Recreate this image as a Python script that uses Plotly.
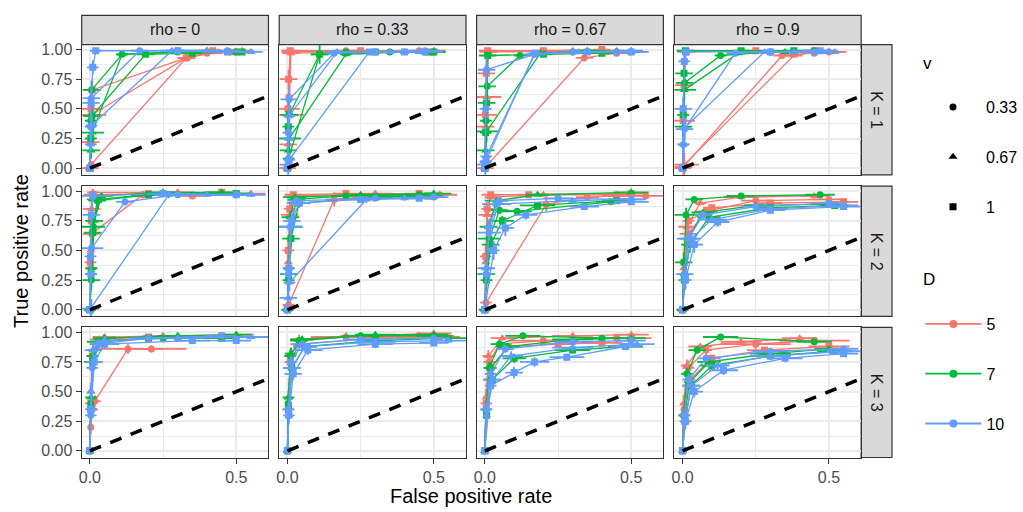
import plotly.graph_objects as go

# ---------------- labels / levels ----------------
RHO_LABELS = ["rho = 0", "rho = 0.33", "rho = 0.67", "rho = 0.9"]
K_LABELS = ["K = 1", "K = 2", "K = 3"]
D_LEVELS = ["5", "7", "10"]
V_LEVELS = ["0.33", "0.67", "1"]
D_COLORS = ["#F8766D", "#00BA38", "#619CFF"]
V_SYMBOLS = ["circle", "triangle-up", "square"]
X_TICKS = [0.0, 0.5]
X_TICKTEXT = ["0.0", "0.5"]
Y_TICKS = [0.0, 0.25, 0.5, 0.75, 1.0]
Y_TICKTEXT = ["0.00", "0.25", "0.50", "0.75", "1.00"]
DIAG = [0.0, 1.0]

# curve order in every panel: (D5,v.33) (D5,v.67) (D5,v1) (D7,...) (D10,...)
# ---------------- K = 1 ----------------
FPR_K1_RHO0 = [
    [0, 0.002, 0.004, 0.33, 0.40, 0.48],
    [0, 0.003, 0.006, 0.33, 0.44, 0.52],
    [0, 0.004, 0.008, 0.33, 0.42, 0.50],
    [0, 0.003, 0.006, 0.11, 0.30, 0.50],
    [0, 0.004, 0.008, 0.11, 0.40, 0.50],
    [0, 0.003, 0.007, 0.19, 0.35, 0.52],
    [0, 0.002, 0.005, 0.17, 0.30, 0.47],
    [0, 0.003, 0.006, 0.28, 0.40, 0.55],
    [0, 0.004, 0.010, 0.02, 0.30, 0.47],
]
TPR_K1_RHO0 = [
    [0, 0.01, 0.03, 0.93, 0.97, 0.98],
    [0, 0.22, 0.45, 0.93, 0.98, 0.99],
    [0, 0.50, 0.66, 0.93, 0.99, 0.98],
    [0, 0.40, 0.66, 0.96, 0.98, 0.98],
    [0, 0.15, 0.30, 0.96, 0.99, 0.98],
    [0, 0.25, 0.44, 0.96, 0.97, 0.98],
    [0, 0.35, 0.59, 0.99, 0.99, 0.99],
    [0, 0.20, 0.36, 0.99, 0.99, 0.98],
    [0, 0.55, 0.85, 0.99, 0.99, 0.98],
]
FPR_K1_RHO033 = [
    [0, 0.002, 0.005, 0.010, 0.20, 0.45],
    [0, 0.003, 0.006, 0.012, 0.30, 0.50],
    [0, 0.002, 0.004, 0.010, 0.25, 0.48],
    [0, 0.004, 0.11, 0.20, 0.35, 0.50],
    [0, 0.003, 0.006, 0.20, 0.40, 0.48],
    [0, 0.003, 0.006, 0.11, 0.30, 0.50],
    [0, 0.003, 0.006, 0.16, 0.30, 0.47],
    [0, 0.003, 0.006, 0.17, 0.35, 0.45],
    [0, 0.003, 0.006, 0.28, 0.40, 0.47],
]
TPR_K1_RHO033 = [
    [0, 0.30, 0.60, 0.98, 0.99, 0.99],
    [0, 0.20, 0.45, 0.97, 0.98, 0.99],
    [0, 0.50, 0.75, 0.99, 0.99, 0.98],
    [0, 0.08, 0.96, 0.98, 0.98, 0.98],
    [0, 0.15, 0.25, 0.96, 0.98, 0.97],
    [0, 0.35, 0.45, 0.96, 0.98, 0.98],
    [0, 0.30, 0.58, 0.97, 0.98, 0.99],
    [0, 0.25, 0.44, 0.98, 0.98, 0.98],
    [0, 0.03, 0.07, 0.98, 0.98, 0.98],
]
FPR_K1_RHO067 = [
    [0, 0.003, 0.006, 0.34, 0.45, 0.50],
    [0, 0.003, 0.006, 0.012, 0.30, 0.45],
    [0, 0.002, 0.005, 0.010, 0.20, 0.40],
    [0, 0.004, 0.008, 0.12, 0.30, 0.45],
    [0, 0.003, 0.006, 0.19, 0.35, 0.50],
    [0, 0.003, 0.006, 0.010, 0.20, 0.40],
    [0, 0.003, 0.006, 0.17, 0.30, 0.45],
    [0, 0.002, 0.005, 0.17, 0.32, 0.50],
    [0, 0.002, 0.004, 0.17, 0.35, 0.50],
]
TPR_K1_RHO067 = [
    [0, 0.01, 0.02, 0.93, 0.97, 0.98],
    [0, 0.35, 0.60, 0.98, 0.99, 0.99],
    [0, 0.45, 0.80, 0.99, 0.99, 1.00],
    [0, 0.40, 0.69, 0.95, 0.98, 0.98],
    [0, 0.15, 0.31, 0.97, 0.99, 0.98],
    [0, 0.30, 0.55, 0.95, 0.96, 0.97],
    [0, 0.50, 0.83, 0.96, 0.98, 0.98],
    [0, 0.05, 0.10, 0.96, 0.98, 0.99],
    [0, 0.03, 0.06, 0.97, 0.98, 0.98],
]
FPR_K1_RHO09 = [
    [0, 0.003, 0.006, 0.34, 0.45, 0.50],
    [0, 0.003, 0.006, 0.38, 0.45, 0.52],
    [0, 0.002, 0.005, 0.012, 0.25, 0.45],
    [0, 0.003, 0.007, 0.13, 0.30, 0.45],
    [0, 0.003, 0.006, 0.19, 0.35, 0.50],
    [0, 0.002, 0.005, 0.010, 0.20, 0.38],
    [0, 0.003, 0.007, 0.18, 0.30, 0.45],
    [0, 0.003, 0.007, 0.28, 0.38, 0.50],
    [0, 0.002, 0.006, 0.012, 0.30, 0.47],
]
TPR_K1_RHO09 = [
    [0, 0.01, 0.02, 0.95, 0.97, 0.98],
    [0, 0.01, 0.03, 0.95, 0.98, 0.98],
    [0, 0.40, 0.70, 0.98, 0.99, 0.99],
    [0, 0.45, 0.72, 0.95, 0.98, 0.99],
    [0, 0.35, 0.66, 0.97, 0.98, 0.98],
    [0, 0.45, 0.80, 0.99, 0.99, 0.99],
    [0, 0.20, 0.33, 0.97, 0.98, 0.98],
    [0, 0.20, 0.34, 0.98, 0.98, 0.98],
    [0, 0.50, 0.90, 0.98, 0.98, 0.99],
]
FPR_SD_K1 = [
    [0.03, 0.01, 0.01, 0.03, 0.04, 0.05],
    [0.02, 0.03, 0.05, 0.03, 0.03, 0.04],
    [0.02, 0.04, 0.03, 0.03, 0.04, 0.03],
    [0.01, 0.02, 0.03, 0.02, 0.03, 0.04],
    [0.01, 0.03, 0.04, 0.02, 0.04, 0.03],
    [0.01, 0.02, 0.03, 0.03, 0.03, 0.04],
    [0.01, 0.02, 0.03, 0.03, 0.04, 0.05],
    [0.01, 0.02, 0.02, 0.04, 0.03, 0.04],
    [0.01, 0.03, 0.02, 0.02, 0.04, 0.06],
]
TPR_SD_K1 = [
    [0.01, 0.02, 0.03, 0.03, 0.01, 0.01],
    [0.01, 0.08, 0.10, 0.02, 0.01, 0.01],
    [0.01, 0.10, 0.08, 0.02, 0.01, 0.01],
    [0.01, 0.09, 0.08, 0.02, 0.01, 0.01],
    [0.01, 0.07, 0.09, 0.02, 0.01, 0.01],
    [0.01, 0.08, 0.10, 0.02, 0.01, 0.01],
    [0.01, 0.09, 0.10, 0.01, 0.01, 0.01],
    [0.01, 0.08, 0.09, 0.01, 0.01, 0.01],
    [0.01, 0.10, 0.06, 0.01, 0.01, 0.01],
]

# ---------------- K = 2 ----------------
FPR_K2_RHO0 = [
    [0, 0.003, 0.006, 0.18, 0.35, 0.50],
    [0, 0.003, 0.006, 0.010, 0.30, 0.55],
    [0, 0.002, 0.005, 0.010, 0.20, 0.45],
    [0, 0.005, 0.012, 0.025, 0.20, 0.50],
    [0, 0.006, 0.015, 0.040, 0.25, 0.45],
    [0, 0.004, 0.010, 0.030, 0.20, 0.50],
    [0, 0.003, 0.006, 0.12, 0.30, 0.50],
    [0, 0.003, 0.005, 0.27, 0.40, 0.55],
    [0, 0.002, 0.005, 0.010, 0.25, 0.50],
]
TPR_K2_RHO0 = [
    [0, 0.35, 0.64, 0.97, 0.96, 0.97],
    [0, 0.50, 0.85, 0.99, 0.99, 0.98],
    [0, 0.40, 0.75, 0.97, 0.98, 0.99],
    [0, 0.25, 0.70, 0.92, 0.97, 0.98],
    [0, 0.35, 0.75, 0.96, 0.99, 0.99],
    [0, 0.30, 0.65, 0.93, 0.97, 0.98],
    [0, 0.30, 0.52, 0.91, 0.97, 0.97],
    [0, 0.01, 0.02, 0.97, 0.97, 0.97],
    [0, 0.45, 0.80, 0.96, 0.98, 0.97],
]
FPR_K2_RHO033 = [
    [0, 0.004, 0.16, 0.30, 0.45, 0.52],
    [0, 0.003, 0.008, 0.020, 0.30, 0.50],
    [0, 0.003, 0.008, 0.020, 0.20, 0.45],
    [0, 0.005, 0.012, 0.030, 0.20, 0.45],
    [0, 0.004, 0.010, 0.025, 0.25, 0.50],
    [0, 0.004, 0.012, 0.040, 0.30, 0.48],
    [0, 0.004, 0.010, 0.030, 0.30, 0.50],
    [0, 0.003, 0.007, 0.27, 0.40, 0.50],
    [0, 0.005, 0.015, 0.040, 0.25, 0.45],
]
TPR_K2_RHO033 = [
    [0, 0.04, 0.93, 0.96, 0.97, 0.97],
    [0, 0.40, 0.80, 0.96, 0.98, 0.97],
    [0, 0.50, 0.85, 0.97, 0.98, 0.98],
    [0, 0.30, 0.70, 0.93, 0.96, 0.97],
    [0, 0.35, 0.78, 0.95, 0.97, 0.98],
    [0, 0.25, 0.60, 0.90, 0.95, 0.96],
    [0, 0.30, 0.70, 0.92, 0.94, 0.95],
    [0, 0.10, 0.23, 0.93, 0.94, 0.95],
    [0, 0.35, 0.75, 0.90, 0.93, 0.94],
]
FPR_K2_RHO067 = [
    [0, 0.004, 0.21, 0.35, 0.45, 0.55],
    [0, 0.003, 0.008, 0.020, 0.20, 0.45],
    [0, 0.003, 0.008, 0.020, 0.15, 0.50],
    [0, 0.005, 0.015, 0.050, 0.11, 0.43],
    [0, 0.004, 0.012, 0.040, 0.18, 0.50],
    [0, 0.006, 0.020, 0.060, 0.18, 0.45],
    [0, 0.005, 0.015, 0.050, 0.25, 0.50],
    [0, 0.005, 0.015, 0.040, 0.30, 0.50],
    [0, 0.030, 0.070, 0.14, 0.34, 0.50],
]
TPR_K2_RHO067 = [
    [0, 0.06, 0.89, 0.95, 0.96, 0.96],
    [0, 0.40, 0.80, 0.95, 0.97, 0.97],
    [0, 0.45, 0.85, 0.97, 0.97, 0.98],
    [0, 0.30, 0.60, 0.84, 0.83, 0.91],
    [0, 0.35, 0.70, 0.92, 0.97, 0.99],
    [0, 0.25, 0.55, 0.75, 0.88, 0.92],
    [0, 0.30, 0.65, 0.92, 0.94, 0.93],
    [0, 0.35, 0.70, 0.89, 0.92, 0.93],
    [0, 0.50, 0.69, 0.80, 0.87, 0.91],
]
FPR_K2_RHO09 = [
    [0, 0.005, 0.020, 0.08, 0.25, 0.50],
    [0, 0.004, 0.015, 0.06, 0.20, 0.45],
    [0, 0.005, 0.020, 0.10, 0.30, 0.55],
    [0, 0.004, 0.012, 0.04, 0.20, 0.47],
    [0, 0.006, 0.020, 0.07, 0.25, 0.50],
    [0, 0.006, 0.025, 0.09, 0.30, 0.52],
    [0, 0.006, 0.020, 0.07, 0.25, 0.50],
    [0, 0.008, 0.030, 0.10, 0.30, 0.55],
    [0, 0.010, 0.040, 0.12, 0.30, 0.55],
]
TPR_K2_RHO09 = [
    [0, 0.30, 0.64, 0.83, 0.92, 0.93],
    [0, 0.35, 0.70, 0.90, 0.95, 0.96],
    [0, 0.40, 0.75, 0.86, 0.90, 0.91],
    [0, 0.40, 0.80, 0.93, 0.96, 0.97],
    [0, 0.30, 0.60, 0.82, 0.88, 0.89],
    [0, 0.25, 0.55, 0.78, 0.86, 0.88],
    [0, 0.30, 0.60, 0.80, 0.87, 0.90],
    [0, 0.30, 0.60, 0.76, 0.85, 0.88],
    [0, 0.25, 0.55, 0.74, 0.84, 0.87],
]
FPR_SD_K2 = [
    [0.01, 0.02, 0.03, 0.04, 0.05, 0.06],
    [0.02, 0.01, 0.03, 0.02, 0.06, 0.05],
    [0.01, 0.02, 0.02, 0.03, 0.04, 0.05],
    [0.01, 0.03, 0.04, 0.03, 0.05, 0.05],
    [0.01, 0.02, 0.03, 0.04, 0.04, 0.06],
    [0.02, 0.02, 0.03, 0.04, 0.06, 0.05],
    [0.01, 0.02, 0.04, 0.03, 0.05, 0.04],
    [0.01, 0.03, 0.02, 0.05, 0.04, 0.05],
    [0.01, 0.02, 0.03, 0.04, 0.05, 0.06],
]
TPR_SD_K2 = [
    [0.01, 0.07, 0.06, 0.03, 0.02, 0.02],
    [0.01, 0.08, 0.05, 0.02, 0.01, 0.01],
    [0.01, 0.09, 0.06, 0.02, 0.01, 0.01],
    [0.01, 0.08, 0.06, 0.03, 0.02, 0.01],
    [0.01, 0.07, 0.05, 0.02, 0.01, 0.01],
    [0.01, 0.09, 0.07, 0.04, 0.02, 0.02],
    [0.01, 0.08, 0.06, 0.03, 0.02, 0.02],
    [0.01, 0.06, 0.07, 0.03, 0.02, 0.02],
    [0.01, 0.08, 0.07, 0.04, 0.03, 0.02],
]

# ---------------- K = 3 ----------------
FPR_K3_RHO0 = [
    [0, 0.003, 0.008, 0.017, 0.13, 0.21],
    [0, 0.003, 0.010, 0.050, 0.25, 0.50],
    [0, 0.003, 0.008, 0.030, 0.20, 0.45],
    [0, 0.003, 0.010, 0.040, 0.25, 0.50],
    [0, 0.004, 0.012, 0.050, 0.30, 0.50],
    [0, 0.003, 0.010, 0.030, 0.20, 0.45],
    [0, 0.003, 0.008, 0.030, 0.20, 0.45],
    [0, 0.004, 0.012, 0.050, 0.30, 0.55],
    [0, 0.004, 0.015, 0.050, 0.35, 0.50],
]
TPR_K3_RHO0 = [
    [0, 0.20, 0.35, 0.42, 0.86, 0.86],
    [0, 0.50, 0.85, 0.96, 0.97, 0.98],
    [0, 0.40, 0.80, 0.94, 0.96, 0.97],
    [0, 0.40, 0.80, 0.93, 0.95, 0.96],
    [0, 0.45, 0.85, 0.95, 0.97, 0.98],
    [0, 0.35, 0.75, 0.92, 0.95, 0.95],
    [0, 0.30, 0.70, 0.90, 0.95, 0.97],
    [0, 0.50, 0.85, 0.93, 0.95, 0.96],
    [0, 0.35, 0.75, 0.90, 0.93, 0.93],
]
FPR_K3_RHO033 = [
    [0, 0.003, 0.010, 0.040, 0.20, 0.45],
    [0, 0.004, 0.012, 0.050, 0.25, 0.50],
    [0, 0.003, 0.010, 0.040, 0.30, 0.52],
    [0, 0.003, 0.010, 0.040, 0.25, 0.50],
    [0, 0.004, 0.012, 0.050, 0.30, 0.50],
    [0, 0.004, 0.015, 0.060, 0.30, 0.55],
    [0, 0.004, 0.012, 0.050, 0.25, 0.50],
    [0, 0.005, 0.015, 0.060, 0.30, 0.55],
    [0, 0.005, 0.020, 0.070, 0.30, 0.50],
]
TPR_K3_RHO033 = [
    [0, 0.40, 0.80, 0.93, 0.96, 0.97],
    [0, 0.45, 0.82, 0.94, 0.97, 0.99],
    [0, 0.35, 0.75, 0.90, 0.95, 0.96],
    [0, 0.40, 0.80, 0.93, 0.97, 0.97],
    [0, 0.45, 0.82, 0.94, 0.98, 0.98],
    [0, 0.35, 0.70, 0.88, 0.93, 0.95],
    [0, 0.35, 0.75, 0.90, 0.94, 0.95],
    [0, 0.30, 0.70, 0.88, 0.92, 0.93],
    [0, 0.30, 0.65, 0.85, 0.90, 0.91],
]
FPR_K3_RHO067 = [
    [0, 0.004, 0.015, 0.05, 0.20, 0.45],
    [0, 0.004, 0.012, 0.06, 0.30, 0.50],
    [0, 0.005, 0.020, 0.08, 0.25, 0.40],
    [0, 0.004, 0.015, 0.05, 0.13, 0.40],
    [0, 0.005, 0.020, 0.08, 0.30, 0.50],
    [0, 0.006, 0.025, 0.10, 0.30, 0.48],
    [0, 0.005, 0.020, 0.07, 0.30, 0.50],
    [0, 0.006, 0.025, 0.09, 0.30, 0.52],
    [0, 0.020, 0.100, 0.17, 0.28, 0.48],
]
TPR_K3_RHO067 = [
    [0, 0.40, 0.75, 0.90, 0.93, 0.95],
    [0, 0.45, 0.80, 0.95, 0.97, 0.98],
    [0, 0.40, 0.70, 0.88, 0.90, 0.91],
    [0, 0.35, 0.70, 0.90, 0.97, 0.95],
    [0, 0.35, 0.70, 0.88, 0.94, 0.95],
    [0, 0.30, 0.60, 0.78, 0.85, 0.88],
    [0, 0.35, 0.65, 0.86, 0.92, 0.93],
    [0, 0.30, 0.60, 0.80, 0.87, 0.90],
    [0, 0.55, 0.66, 0.75, 0.79, 0.88],
]
FPR_K3_RHO09 = [
    [0, 0.005, 0.020, 0.08, 0.25, 0.45],
    [0, 0.004, 0.015, 0.06, 0.20, 0.40],
    [0, 0.006, 0.025, 0.10, 0.28, 0.50],
    [0, 0.004, 0.015, 0.05, 0.13, 0.45],
    [0, 0.006, 0.025, 0.09, 0.30, 0.50],
    [0, 0.008, 0.030, 0.10, 0.30, 0.52],
    [0, 0.006, 0.020, 0.08, 0.30, 0.55],
    [0, 0.008, 0.030, 0.12, 0.30, 0.55],
    [0, 0.010, 0.040, 0.14, 0.35, 0.55],
]
TPR_K3_RHO09 = [
    [0, 0.35, 0.70, 0.85, 0.90, 0.93],
    [0, 0.40, 0.72, 0.88, 0.92, 0.95],
    [0, 0.30, 0.60, 0.78, 0.85, 0.88],
    [0, 0.30, 0.65, 0.85, 0.96, 0.92],
    [0, 0.30, 0.58, 0.75, 0.82, 0.86],
    [0, 0.25, 0.55, 0.72, 0.80, 0.84],
    [0, 0.30, 0.60, 0.78, 0.84, 0.86],
    [0, 0.25, 0.55, 0.72, 0.80, 0.84],
    [0, 0.25, 0.50, 0.68, 0.78, 0.82],
]
FPR_SD_K3 = [
    [0.01, 0.01, 0.02, 0.02, 0.12, 0.12],
    [0.01, 0.01, 0.02, 0.04, 0.07, 0.06],
    [0.01, 0.02, 0.02, 0.03, 0.06, 0.07],
    [0.01, 0.01, 0.02, 0.03, 0.06, 0.06],
    [0.01, 0.02, 0.02, 0.04, 0.07, 0.05],
    [0.01, 0.01, 0.03, 0.04, 0.06, 0.06],
    [0.01, 0.02, 0.02, 0.03, 0.06, 0.05],
    [0.01, 0.01, 0.03, 0.04, 0.07, 0.06],
    [0.01, 0.02, 0.03, 0.05, 0.06, 0.05],
]
TPR_SD_K3 = [
    [0.01, 0.06, 0.06, 0.05, 0.04, 0.03],
    [0.01, 0.07, 0.05, 0.02, 0.02, 0.01],
    [0.01, 0.06, 0.06, 0.03, 0.02, 0.02],
    [0.01, 0.07, 0.05, 0.03, 0.02, 0.02],
    [0.01, 0.06, 0.05, 0.03, 0.02, 0.01],
    [0.01, 0.07, 0.06, 0.04, 0.03, 0.02],
    [0.01, 0.06, 0.05, 0.03, 0.02, 0.02],
    [0.01, 0.07, 0.06, 0.04, 0.03, 0.02],
    [0.01, 0.06, 0.05, 0.04, 0.03, 0.02],
]

PANEL_FPR = [
    [FPR_K1_RHO0, FPR_K1_RHO033, FPR_K1_RHO067, FPR_K1_RHO09],
    [FPR_K2_RHO0, FPR_K2_RHO033, FPR_K2_RHO067, FPR_K2_RHO09],
    [FPR_K3_RHO0, FPR_K3_RHO033, FPR_K3_RHO067, FPR_K3_RHO09],
]
PANEL_TPR = [
    [TPR_K1_RHO0, TPR_K1_RHO033, TPR_K1_RHO067, TPR_K1_RHO09],
    [TPR_K2_RHO0, TPR_K2_RHO033, TPR_K2_RHO067, TPR_K2_RHO09],
    [TPR_K3_RHO0, TPR_K3_RHO033, TPR_K3_RHO067, TPR_K3_RHO09],
]
ROW_FPR_SD = [FPR_SD_K1, FPR_SD_K2, FPR_SD_K3]
ROW_TPR_SD = [TPR_SD_K1, TPR_SD_K2, TPR_SD_K3]

# ---------------- layout geometry (pixels) ----------------
W, H = 1023, 512
COL_LEFT = [79.0, 277.3, 475.5, 674.0]
PANEL_W = 187.5
ROW_TOP = [42.0, 185.0, 327.5]
PANEL_H = 131.5
STRIP_TOP = 12.5
STRIP_R_W = 31.0
FONT = "Liberation Sans, Arial, Helvetica, sans-serif"

fig = go.Figure()

def px_x(v):
    return v / W

def px_y(v):
    return 1 - v / H

for r in range(3):
    for c in range(4):
        idx = r * 4 + c + 1
        xa = "x" if idx == 1 else f"x{idx}"
        ya = "y" if idx == 1 else f"y{idx}"
        fpr = PANEL_FPR[r][c]
        tpr = PANEL_TPR[r][c]
        fsd = ROW_FPR_SD[r]
        tsd = ROW_TPR_SD[r]
        for di in range(3):
            for vi in range(3):
                k = di * 3 + vi
                col = D_COLORS[di]
                fig.add_trace(go.Scatter(
                    x=fpr[k], y=tpr[k], xaxis=xa, yaxis=ya,
                    mode="lines+markers",
                    line=dict(color=col, width=1.3),
                    marker=dict(symbol=V_SYMBOLS[vi], color=col,
                                size=8 if vi == 1 else 7),
                    error_x=dict(type="data", array=fsd[k], color=col,
                                 thickness=1.8, width=0),
                    error_y=dict(type="data", array=tsd[k], color=col,
                                 thickness=1.8, width=0),
                    showlegend=False, hoverinfo="skip"))
        fig.add_trace(go.Scatter(
            x=DIAG, y=DIAG, xaxis=xa, yaxis=ya, mode="lines",
            line=dict(color="black", width=3.5, dash="12px,10px"),
            showlegend=False, hoverinfo="skip"))

        x0, x1 = COL_LEFT[c], COL_LEFT[c] + PANEL_W
        y0, y1 = ROW_TOP[r], ROW_TOP[r] + PANEL_H
        bottom = r == 2
        left = c == 0
        axkey_x = "xaxis" if idx == 1 else f"xaxis{idx}"
        axkey_y = "yaxis" if idx == 1 else f"yaxis{idx}"
        fig.layout[axkey_x] = dict(
            domain=[px_x(x0), px_x(x1)], anchor=ya,
            range=[-0.028, 0.61], tickvals=X_TICKS, ticktext=X_TICKTEXT,
            showticklabels=bottom, ticks="outside" if bottom else "",
            ticklen=5, tickwidth=1.2, tickcolor="#333333",
            tickfont=dict(family=FONT, size=16, color="#4D4D4D"),
            showline=True, mirror=True, linecolor="#333333", linewidth=1.2,
            showgrid=True, gridcolor="#EBEBEB", gridwidth=1.6, zeroline=False,
            minor=dict(tickvals=[0.25], showgrid=True, gridcolor="#EBEBEB",
                       gridwidth=0.8, ticks=""),
        )
        fig.layout[axkey_y] = dict(
            domain=[px_y(y1), px_y(y0)], anchor=xa,
            range=[-0.056, 1.042], tickvals=Y_TICKS, ticktext=Y_TICKTEXT,
            showticklabels=left, ticks="outside" if left else "",
            ticklen=5, tickwidth=1.2, tickcolor="#333333",
            tickfont=dict(family=FONT, size=16, color="#4D4D4D"),
            showline=True, mirror=True, linecolor="#333333", linewidth=1.2,
            showgrid=True, gridcolor="#EBEBEB", gridwidth=1.6, zeroline=False,
            minor=dict(tickvals=[0.125, 0.375, 0.625, 0.875], showgrid=True,
                       gridcolor="#EBEBEB", gridwidth=0.8, ticks=""),
        )

shapes = []
annotations = []
# top strips
for c in range(4):
    x0, x1 = COL_LEFT[c], COL_LEFT[c] + PANEL_W
    shapes.append(dict(type="rect", xref="paper", yref="paper",
                       x0=px_x(x0), x1=px_x(x1), y0=px_y(ROW_TOP[0]), y1=px_y(STRIP_TOP),
                       fillcolor="#D9D9D9", line=dict(color="#333333", width=1.2),
                       layer="below"))
    annotations.append(dict(xref="paper", yref="paper", x=px_x((x0 + x1) / 2),
                            y=px_y((ROW_TOP[0] + STRIP_TOP) / 2), text=RHO_LABELS[c],
                            showarrow=False, font=dict(family=FONT, size=16, color="#1A1A1A"),
                            xanchor="center", yanchor="middle"))
# right strips
sx0 = COL_LEFT[3] + PANEL_W
sx1 = sx0 + STRIP_R_W
for r in range(3):
    y0, y1 = ROW_TOP[r], ROW_TOP[r] + PANEL_H
    shapes.append(dict(type="rect", xref="paper", yref="paper",
                       x0=px_x(sx0), x1=px_x(sx1), y0=px_y(y1), y1=px_y(y0),
                       fillcolor="#D9D9D9", line=dict(color="#333333", width=1.2),
                       layer="below"))
    annotations.append(dict(xref="paper", yref="paper", x=px_x((sx0 + sx1) / 2),
                            y=px_y((y0 + y1) / 2), text=K_LABELS[r], textangle=90,
                            showarrow=False, font=dict(family=FONT, size=16, color="#1A1A1A"),
                            xanchor="center", yanchor="middle"))
# axis titles
annotations.append(dict(xref="paper", yref="paper", x=px_x((COL_LEFT[0] + COL_LEFT[3] + PANEL_W) / 2),
                        y=px_y(498), text="False positive rate", showarrow=False,
                        font=dict(family=FONT, size=20, color="black"),
                        xanchor="center", yanchor="middle"))
annotations.append(dict(xref="paper", yref="paper", x=px_x(18),
                        y=px_y((ROW_TOP[0] + ROW_TOP[2] + PANEL_H) / 2), text="True positive rate",
                        textangle=-90, showarrow=False,
                        font=dict(family=FONT, size=20, color="black"),
                        xanchor="center", yanchor="middle"))
# legend titles
annotations.append(dict(xref="paper", yref="paper", x=px_x(922), y=px_y(61),
                        text="v", showarrow=False, xanchor="left", yanchor="middle",
                        font=dict(family=FONT, size=17, color="black")))
annotations.append(dict(xref="paper", yref="paper", x=px_x(922), y=px_y(279),
                        text="D", showarrow=False, xanchor="left", yanchor="middle",
                        font=dict(family=FONT, size=17, color="black")))

# legend entries
for vi in range(3):
    fig.add_trace(go.Scatter(x=[None], y=[None], mode="markers", name=V_LEVELS[vi],
                             marker=dict(symbol=V_SYMBOLS[vi], color="black",
                                         size=8 if vi == 1 else 7),
                             legend="legend", legendgroup=f"v{vi}", showlegend=True))
for di in range(3):
    fig.add_trace(go.Scatter(x=[None], y=[None], mode="lines+markers", name=D_LEVELS[di],
                             line=dict(color=D_COLORS[di], width=1.8),
                             marker=dict(symbol="circle", color=D_COLORS[di], size=8),
                             legend="legend2", legendgroup=f"d{di}", showlegend=True))

fig.update_layout(
    width=W, height=H,
    margin=dict(l=0, r=0, t=0, b=0),
    paper_bgcolor="white", plot_bgcolor="white",
    font=dict(family=FONT, size=16, color="black"),
    shapes=shapes, annotations=annotations,
    legend=dict(x=px_x(921), y=px_y(88), xanchor="left", yanchor="top",
                font=dict(family=FONT, size=16, color="black"),
                tracegroupgap=26, itemwidth=56, bgcolor="rgba(0,0,0,0)"),
    legend2=dict(x=px_x(921), y=px_y(307), xanchor="left", yanchor="top",
                 font=dict(family=FONT, size=16, color="black"),
                 tracegroupgap=26, itemwidth=56, bgcolor="rgba(0,0,0,0)"),
)

fig.write_html("out.html", config={"displayModeBar": False},
               post_script="document.body.style.margin='0';document.body.style.padding='0';")
